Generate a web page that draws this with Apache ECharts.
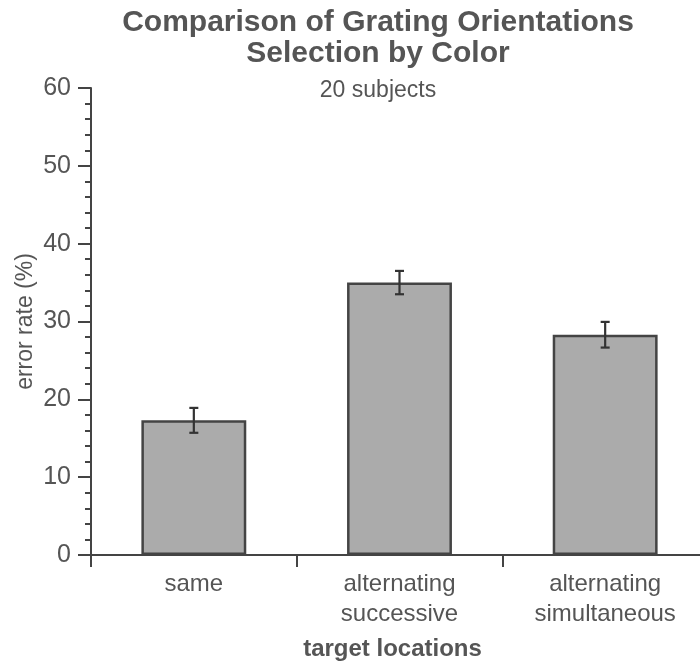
<!DOCTYPE html>
<html>
<head>
<meta charset="utf-8">
<script src="https://cdn.jsdelivr.net/npm/echarts@6/dist/echarts.min.js"></script>
<style>
  html, body { margin: 0; padding: 0; background: #fff; }
  #chart { width: 700px; height: 666px; }
</style>
</head>
<body>
<div id="chart"></div>
<script>
// Error rates (%) per target-location condition, with standard errors
const categories = ['same', 'alternating\nsuccessive', 'alternating\nsimultaneous'];
const errorRate = [17.3, 35.0, 28.3];
const stdErr = [1.6, 1.5, 1.65];
const yTicks = { min: 0, max: 60, step: 10 };
const titleLines = ['Comparison of Grating Orientations', 'Selection by Color'];
const subtitle = '20 subjects';

const FONT = '"Liberation Sans", Arial, Helvetica, sans-serif';
const TEXT = '#555';
const INK = '#444';
const TITLE_X = 378;

const chart = echarts.init(document.getElementById('chart'), null, { renderer: 'canvas' });

const errorData = categories.map((c, i) => [i, errorRate[i] - stdErr[i], errorRate[i] + stdErr[i]]);

chart.setOption({
  backgroundColor: '#fff',
  animation: false,
  graphic: [
    {
      type: 'text',
      x: TITLE_X,
      y: 7,
      style: {
        text: titleLines.join('\n'),
        fill: TEXT,
        font: 'bold 30px ' + FONT,
        lineHeight: 31,
        align: 'center',
        verticalAlign: 'top'
      }
    },
    {
      type: 'text',
      x: TITLE_X,
      y: 79,
      style: {
        text: subtitle,
        fill: TEXT,
        font: '23px ' + FONT,
        lineHeight: 23,
        align: 'center',
        verticalAlign: 'top'
      }
    }
  ],
  // the plot runs past the right edge of the canvas
  grid: { left: 91, width: 617, top: 88, height: 467, containLabel: false, outerBoundsMode: 'none' },
  xAxis: {
    type: 'category',
    data: categories,
    boundaryGap: true,
    name: 'target locations',
    nameLocation: 'middle',
    nameGap: 82,
    nameMoveOverlap: false,
    nameTextStyle: { fontFamily: FONT, fontWeight: 'bold', fontSize: 24, color: TEXT, padding: [0, 14, 0, 0] },
    axisLine: { show: true, lineStyle: { color: INK, width: 2 } },
    axisTick: { show: true, inside: false, length: 12, alignWithLabel: false, lineStyle: { color: INK, width: 2 } },
    axisLabel: { fontFamily: FONT, fontSize: 24, lineHeight: 30, color: TEXT, margin: 14, interval: 0 },
    splitLine: { show: false }
  },
  yAxis: {
    type: 'value',
    min: yTicks.min,
    max: yTicks.max,
    interval: yTicks.step,
    name: 'error rate (%)',
    nameLocation: 'middle',
    nameGap: 54,
    nameMoveOverlap: false,
    nameTextStyle: { fontFamily: FONT, fontSize: 23, color: TEXT },
    axisLine: { show: true, lineStyle: { color: INK, width: 2 } },
    axisTick: { show: true, inside: false, length: 13, lineStyle: { color: INK, width: 2 } },
    minorTick: { show: true, splitNumber: 5, length: 6, lineStyle: { color: INK, width: 2 } },
    axisLabel: { fontFamily: FONT, fontSize: 25, color: TEXT, margin: 20 },
    splitLine: { show: false }
  },
  series: [
    {
      type: 'bar',
      data: errorRate,
      barWidth: '51%',
      itemStyle: { color: '#ababab', borderColor: INK, borderWidth: 2.5 },
      z: 2
    },
    {
      type: 'custom',
      data: errorData,
      z: 3,
      renderItem: function (params, api) {
        const lo = api.coord([api.value(0), api.value(1)]);
        const hi = api.coord([api.value(0), api.value(2)]);
        const half = 4.5;
        const style = { stroke: '#333', lineWidth: 2.2 };
        return {
          type: 'group',
          children: [
            { type: 'line', shape: { x1: hi[0], y1: hi[1], x2: lo[0], y2: lo[1] }, style: style },
            { type: 'line', shape: { x1: hi[0] - half, y1: hi[1], x2: hi[0] + half, y2: hi[1] }, style: style },
            { type: 'line', shape: { x1: lo[0] - half, y1: lo[1], x2: lo[0] + half, y2: lo[1] }, style: style }
          ]
        };
      }
    }
  ]
});
</script>
</body>
</html>
